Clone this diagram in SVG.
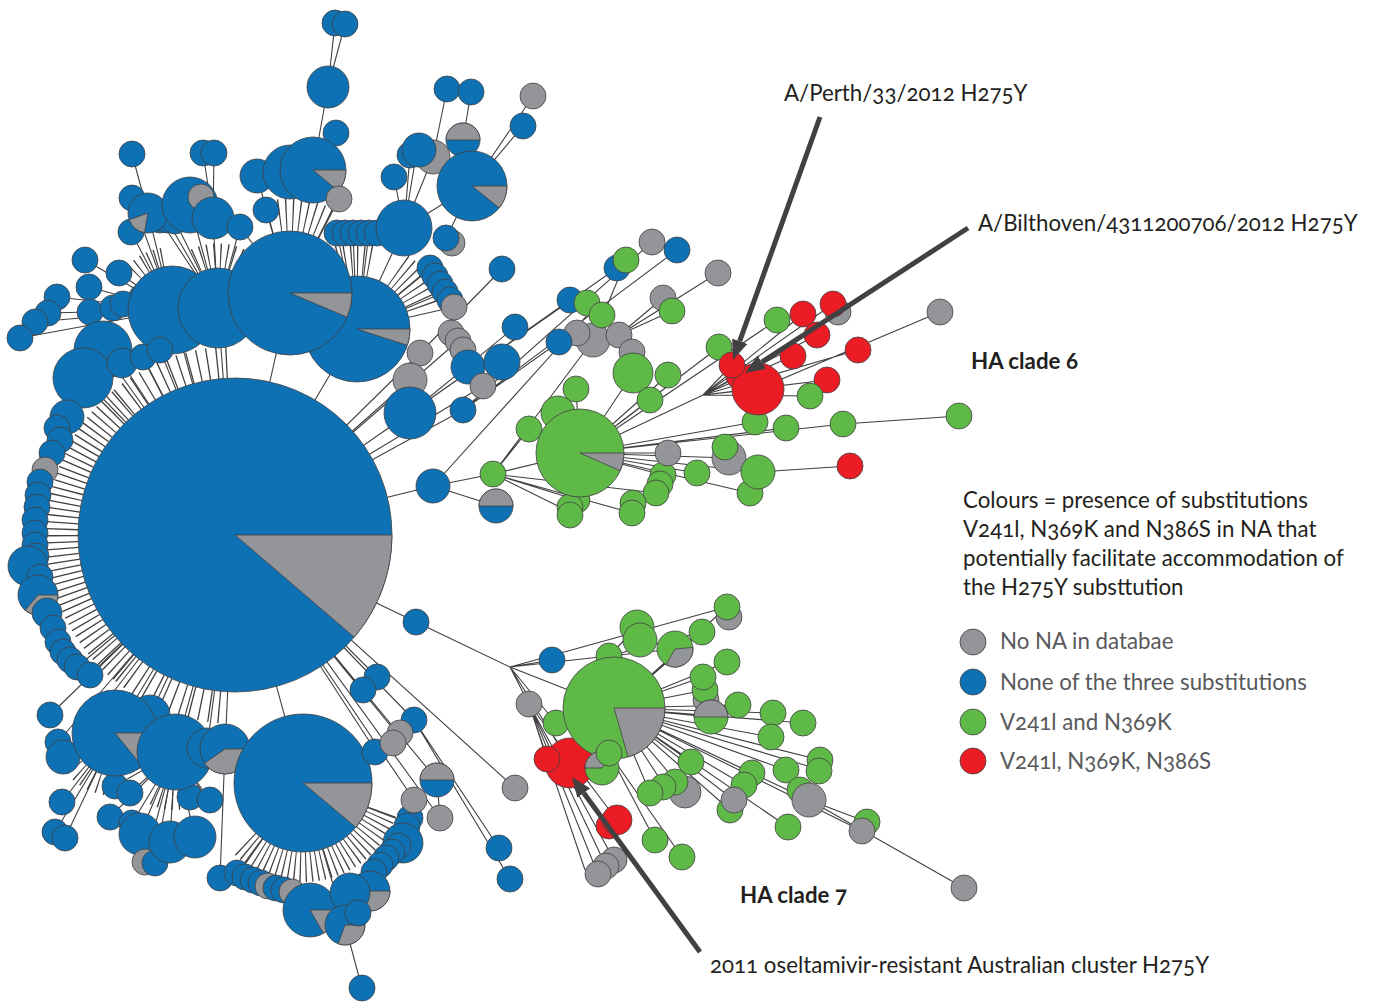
<svg xmlns="http://www.w3.org/2000/svg" width="1375" height="1003" viewBox="0 0 1375 1003">
<defs>
<style>
.b{fill:#0e71b3}.y{fill:#939598}.g{fill:#5fb946}.r{fill:#ec1c24}
#nodes circle,#nodes path,#legend circle{stroke:#414042;stroke-width:.8}
.c{stroke:#414042;stroke-width:1.1;fill:none}
.ring{fill:none;stroke:#414042}
.arrow{stroke:#414042;stroke-width:5;fill:none;marker-end:url(#ah)}
.t{font-family:Lato,"Noto Sans","Liberation Sans",sans-serif;font-size:22.3px;fill:#231f20;font-variant-numeric:oldstyle-nums}
.lg{fill:#58595b}
.bold{font-weight:bold}
</style>
<marker id="ah" viewBox="0 0 10 8" refX="0" refY="4" markerWidth="4" markerHeight="3.2" orient="auto"><path d="M0,0L10,4L0,8z" fill="#414042"/></marker>
</defs>
<rect width="1375" height="1003" fill="#fff"/>
<g id="connectors">
<path class="ring" stroke-width="32" stroke-dasharray="1.3 5.2" d="M123.8,667.5A173,173 0 0 1 123.8,402.5"/>
<path class="ring" stroke-width="32" stroke-dasharray="1.3 8" d="M219.9,707.3A173,173 0 0 1 123.8,667.5"/>
<path class="ring" stroke-width="32" stroke-dasharray="1.3 8" d="M123.8,402.5A173,173 0 0 1 229,362.1"/>
<path class="ring" stroke-width="30" stroke-dasharray="1.2 4.3" d="M381.9,811.7A84,84 0 0 1 243.6,842.4"/>
<path class="ring" stroke-width="20" stroke-dasharray="1.2 5" d="M202.5,791.3A48,48 0 0 1 151,793.6"/>
<path class="ring" stroke-width="20" stroke-dasharray="1.2 6" d="M105.8,785.2A53,53 0 0 1 69.1,759.5"/>
<path class="ring" stroke-width="33" stroke-dasharray="1.2 5.5" d="M279.1,215.8A78,78 0 0 1 329,225.5"/>
<path class="ring" stroke-width="37" stroke-dasharray="1.2 5" d="M332.7,262.3A71,71 0 0 1 375.4,260.4"/>
<path class="ring" stroke-width="37" stroke-dasharray="1.2 5" d="M397.7,270.8A71,71 0 0 1 425.6,310.6"/>
<path class="ring" stroke-width="25" stroke-dasharray="1.2 5" d="M196,260.9A52,52 0 0 1 244,263"/>
<path class="ring" stroke-width="20" stroke-dasharray="1.2 5" d="M134.5,272.5A53,53 0 0 1 167.4,257.2"/>
<path class="c" d="M235,535L218,308M235,535L290,293M235,535L357,329M235,535L172,310M235,535L103,350M235,535L83,378M235,535L122,363M235,535L143,357M235,535L160,350M235,535L410,413M235,535L410,380M235,535L420,353M235,535L463,410M235,535L483,386M235,535L458,341M235,535L433,486M235,535L416,622M235,535L363,690M235,535L377,677M235,535L414,720M235,535L398,735M235,535L375,750M235,535L437,780M235,535L414,800M235,535L440,818M235,535L515,788M235,535L303,783M235,535L225,749M235,535L207,748M235,535L175,752M235,535L150,715M235,535L115,733M235,535L90,675M235,535L77,667M235,535L50,715M235,535L58,742M235,535L63,757"/>
<path class="c" d="M328,87L335,23M328,87L345,24M328,87L313,170M313,170L336,133M290,293L257,176M290,293L266,210M290,293L240,227M290,293L339,199M218,308L190,205M218,308L213,218M213,218L203,153M213,218L214,153M218,308L240,227M218,308L175,221M218,308L167,220M218,308L160,220M172,310L148,213M148,213L132,154M172,310L132,198M172,310L131,232M172,310L119,273M172,310L85,260M172,310L89,287M172,310L90,312M172,310L57,297M172,310L48,313M172,310L35,322M172,310L20,338M172,310L123,304M172,310L142,297M172,310L113,308"/>
<path class="c" d="M357,329L404,228M404,228L394,177M404,228L417,150M404,228L433,157M404,228L410,155M433,157L447,89M463,140L471,92M472,186L523,126M472,186L533,96M472,186L446,238M472,186L404,228M472,186L463,140M357,329L337,233M357,329L353,233M357,329L369,233M357,329L430,268M357,329L445,292M357,329L454,307M502,269L420,353"/>
<path class="c" d="M433,486L493,474M433,486L496,506M433,486L590,312M493,474L580,453M493,474L593,340M493,474L570,512M493,474L632,513M493,474L656,493M493,474L529,429M493,474L577,500M580,453L633,373M580,453L668,375M580,453L650,400M580,453L576,389M580,453L558,413M580,453L668,453M580,453L697,473M580,453L729,458M580,453L758,472M580,453L750,493M580,453L663,475M580,453L703,395M580,453L719,347M580,453L777,320M580,453L755,422M580,453L786,428M580,453L843,424M843,424L959,416M758,472L850,466M703,395L732,365M703,395L739,375M703,395L758,389M703,395L793,356M703,395L803,314M703,395L817,335M703,395L833,304M703,395L827,380M703,395L858,350M703,395L810,396M758,389L940,312M619,335L672,311M619,335L718,273M619,335L663,298M410,413L515,327M410,413L617,268M463,410L677,250M463,410L652,242M463,410L559,342M410,413L570,300M593,340L626,260"/>
<path class="c" d="M416,622L510,667M510,667L552,660M510,667L609,656M609,656L637,627M609,656L675,649M609,656L702,632M510,667L727,607M510,667L614,708M510,667L529,704M510,667L556,723M510,667L570,763M529,704L598,874M529,704L606,866M529,704L614,860M529,704L617,820M529,704L547,759M529,704L585,870M614,708L727,662M614,708L703,677M614,708L705,690M614,708L738,705M614,708L711,717M614,708L773,713M614,708L771,737M614,708L803,723M614,708L691,762M614,708L650,793M614,708L665,787M614,708L685,792M614,708L752,773M614,708L744,785M614,708L734,800M614,708L730,810M614,708L786,770M614,708L820,760M614,708L821,770M614,708L809,800M614,708L788,827M614,708L862,831M614,708L702,632M614,708L727,607M809,800L964,888M809,800L867,822M609,753L655,840M609,753L682,857"/>
<path class="c" d="M115,733L62,802M115,733L55,832M115,733L65,838M175,752L110,817M175,752L132,823M175,752L140,834M175,752L170,842M175,752L195,837M175,752L145,862M175,752L155,863M175,752L115,786M175,752L130,793M175,752L190,797M175,752L210,800M225,749L220,878M303,783L345,925M345,925L362,988M414,720L499,848M414,720L510,879M437,780L440,818M303,783L237,873M303,783L408,823"/>
</g>
<g id="nodes">
<g id="n0"><circle class="b" cx="235" cy="535" r="157"/><path class="y" d="M235,535L392,535A157,157 0 0 1 354.2,637.2Z"/></g>
<g id="n1"><circle class="b" cx="335" cy="23" r="13"/></g>
<g id="n2"><circle class="b" cx="345" cy="24" r="13"/></g>
<g id="n3"><circle class="b" cx="328" cy="87" r="21"/></g>
<g id="n4"><circle class="b" cx="336" cy="133" r="13"/></g>
<g id="n5"><circle class="b" cx="132" cy="154" r="13"/></g>
<g id="n6"><circle class="b" cx="203" cy="153" r="13"/></g>
<g id="n7"><circle class="b" cx="214" cy="153" r="13"/></g>
<g id="n8"><circle class="b" cx="132" cy="198" r="13"/></g>
<g id="n9"><circle class="b" cx="131" cy="232" r="13"/></g>
<g id="n10"><circle class="b" cx="160" cy="220" r="13"/></g>
<g id="n11"><circle class="b" cx="167" cy="220" r="13"/></g>
<g id="n12"><circle class="b" cx="175" cy="221" r="13"/></g>
<g id="n13"><circle class="b" cx="148" cy="213" r="20"/><path class="y" d="M148,213L144.5,232.7A20,20 0 0 1 129.2,219.8Z"/></g>
<g id="n14"><circle class="b" cx="190" cy="205" r="28"/></g>
<g id="n15"><circle class="y" cx="201" cy="197" r="13"/></g>
<g id="n16"><circle class="b" cx="213" cy="218" r="21"/></g>
<g id="n17"><circle class="b" cx="240" cy="227" r="13"/></g>
<g id="n18"><circle class="b" cx="257" cy="176" r="17"/></g>
<g id="n19"><circle class="b" cx="266" cy="210" r="13"/></g>
<g id="n20"><circle class="b" cx="290" cy="172" r="27"/></g>
<g id="n21"><circle class="b" cx="313" cy="170" r="33"/><path class="y" d="M313,170L346,170A33,33 0 0 1 338.3,191.2Z"/></g>
<g id="n22"><circle class="y" cx="339" cy="199" r="13"/></g>
<g id="n23"><circle class="b" cx="85" cy="260" r="13"/></g>
<g id="n24"><circle class="b" cx="119" cy="273" r="13"/></g>
<g id="n25"><circle class="b" cx="89" cy="287" r="13"/></g>
<g id="n26"><circle class="b" cx="57" cy="297" r="13"/></g>
<g id="n27"><circle class="b" cx="48" cy="313" r="13"/></g>
<g id="n28"><circle class="b" cx="35" cy="322" r="13"/></g>
<g id="n29"><circle class="b" cx="20" cy="338" r="13"/></g>
<g id="n30"><circle class="b" cx="90" cy="312" r="13"/></g>
<g id="n31"><circle class="b" cx="142" cy="297" r="13"/></g>
<g id="n32"><circle class="b" cx="113" cy="308" r="13"/></g>
<g id="n33"><circle class="b" cx="123" cy="304" r="13"/></g>
<g id="n34"><circle class="b" cx="172" cy="310" r="44"/></g>
<g id="n35"><circle class="b" cx="218" cy="308" r="40"/></g>
<g id="n36"><circle class="b" cx="337" cy="233" r="13"/></g>
<g id="n37"><circle class="b" cx="345" cy="233" r="13"/></g>
<g id="n38"><circle class="b" cx="353" cy="233" r="13"/></g>
<g id="n39"><circle class="b" cx="361" cy="233" r="13"/></g>
<g id="n40"><circle class="b" cx="369" cy="233" r="13"/></g>
<g id="n41"><circle class="b" cx="377" cy="233" r="13"/></g>
<g id="n42"><circle class="b" cx="357" cy="329" r="53"/><path class="y" d="M357,329L410,329A53,53 0 0 1 407.4,345.4Z"/></g>
<g id="n43"><circle class="b" cx="290" cy="293" r="62"/><path class="y" d="M290,293L352,293A62,62 0 0 1 347.1,317.2Z"/></g>
<g id="n44"><circle class="b" cx="103" cy="350" r="29"/></g>
<g id="n45"><circle class="b" cx="83" cy="378" r="30"/></g>
<g id="n46"><circle class="b" cx="122" cy="363" r="15"/></g>
<g id="n47"><circle class="b" cx="143" cy="357" r="13"/></g>
<g id="n48"><circle class="b" cx="160" cy="350" r="13"/></g>
<g id="n49"><circle class="b" cx="447" cy="89" r="13"/></g>
<g id="n50"><circle class="b" cx="471" cy="92" r="13"/></g>
<g id="n51"><circle class="y" cx="533" cy="96" r="13"/></g>
<g id="n52"><circle class="b" cx="523" cy="126" r="13"/></g>
<g id="n53"><circle class="b" cx="394" cy="177" r="13"/></g>
<g id="n54"><circle class="y" cx="433" cy="157" r="17"/></g>
<g id="n55"><circle class="b" cx="410" cy="155" r="13"/></g>
<g id="n56"><circle class="b" cx="419" cy="150" r="17"/></g>
<g id="n57"><circle class="b" cx="463" cy="140" r="17"/><path class="y" d="M446,140A17,17 0 0 1 480,140Z"/></g>
<g id="n58"><circle class="b" cx="472" cy="186" r="35"/><path class="y" d="M472,186L507,186A35,35 0 0 1 499.2,208Z"/></g>
<g id="n59"><circle class="b" cx="404" cy="228" r="28"/></g>
<g id="n60"><circle class="y" cx="452" cy="243" r="13"/></g>
<g id="n61"><circle class="b" cx="446" cy="238" r="13"/></g>
<g id="n62"><circle class="b" cx="430" cy="268" r="13"/></g>
<g id="n63"><circle class="b" cx="435" cy="276" r="13"/></g>
<g id="n64"><circle class="b" cx="440" cy="284" r="13"/></g>
<g id="n65"><circle class="b" cx="445" cy="292" r="13"/></g>
<g id="n66"><circle class="b" cx="450" cy="300" r="13"/></g>
<g id="n67"><circle class="y" cx="454" cy="307" r="13"/></g>
<g id="n68"><circle class="b" cx="502" cy="269" r="13"/></g>
<g id="n69"><circle class="y" cx="451" cy="333" r="13"/></g>
<g id="n70"><circle class="y" cx="458" cy="341" r="13"/></g>
<g id="n71"><circle class="y" cx="463" cy="350" r="13"/></g>
<g id="n72"><circle class="y" cx="420" cy="353" r="13"/></g>
<g id="n73"><circle class="y" cx="410" cy="380" r="17"/></g>
<g id="n74"><circle class="b" cx="410" cy="413" r="26"/></g>
<g id="n75"><circle class="b" cx="468" cy="367" r="17"/></g>
<g id="n76"><circle class="b" cx="502" cy="362" r="18"/></g>
<g id="n77"><circle class="y" cx="483" cy="386" r="13"/></g>
<g id="n78"><circle class="b" cx="463" cy="410" r="13"/></g>
<g id="n79"><circle class="b" cx="515" cy="327" r="13"/></g>
<g id="n80"><circle class="b" cx="67" cy="417" r="17"/></g>
<g id="n81"><circle class="b" cx="57" cy="428" r="13"/></g>
<g id="n82"><circle class="b" cx="60" cy="440" r="13"/></g>
<g id="n83"><circle class="b" cx="52" cy="453" r="13"/></g>
<g id="n84"><circle class="y" cx="45" cy="470" r="13"/></g>
<g id="n85"><circle class="b" cx="40" cy="482" r="13"/></g>
<g id="n86"><circle class="b" cx="38" cy="495" r="13"/></g>
<g id="n87"><circle class="b" cx="37" cy="507" r="13"/></g>
<g id="n88"><circle class="b" cx="35" cy="520" r="13"/></g>
<g id="n89"><circle class="b" cx="35" cy="533" r="13"/></g>
<g id="n90"><circle class="b" cx="35" cy="545" r="13"/></g>
<g id="n91"><circle class="b" cx="36" cy="556" r="13"/></g>
<g id="n92"><circle class="b" cx="28" cy="566" r="20"/></g>
<g id="n93"><circle class="b" cx="40" cy="577" r="13"/></g>
<g id="n94"><circle class="b" cx="38" cy="595" r="20"/><path class="y" d="M38,595L58,595A20,20 0 0 1 25.1,610.3Z"/></g>
<g id="n95"><circle class="b" cx="47" cy="613" r="15"/></g>
<g id="n96"><circle class="b" cx="53" cy="628" r="13"/></g>
<g id="n97"><circle class="b" cx="58" cy="642" r="13"/></g>
<g id="n98"><circle class="b" cx="63" cy="652" r="13"/></g>
<g id="n99"><circle class="b" cx="70" cy="660" r="13"/></g>
<g id="n100"><circle class="b" cx="77" cy="667" r="13"/></g>
<g id="n101"><circle class="b" cx="90" cy="675" r="13"/></g>
<g id="n102"><circle class="b" cx="50" cy="715" r="13"/></g>
<g id="n103"><circle class="b" cx="58" cy="742" r="13"/></g>
<g id="n104"><circle class="b" cx="63" cy="757" r="17"/></g>
<g id="n105"><circle class="b" cx="62" cy="802" r="13"/></g>
<g id="n106"><circle class="b" cx="55" cy="832" r="13"/></g>
<g id="n107"><circle class="b" cx="65" cy="838" r="13"/></g>
<g id="n108"><circle class="b" cx="115" cy="786" r="13"/></g>
<g id="n109"><circle class="b" cx="130" cy="793" r="13"/></g>
<g id="n110"><circle class="b" cx="110" cy="817" r="13"/></g>
<g id="n111"><circle class="b" cx="132" cy="823" r="13"/></g>
<g id="n112"><circle class="b" cx="140" cy="834" r="21"/></g>
<g id="n113"><circle class="y" cx="145" cy="862" r="13"/></g>
<g id="n114"><circle class="b" cx="155" cy="863" r="13"/></g>
<g id="n115"><circle class="b" cx="170" cy="842" r="21"/></g>
<g id="n116"><circle class="b" cx="195" cy="837" r="21"/></g>
<g id="n117"><circle class="b" cx="190" cy="797" r="13"/></g>
<g id="n118"><circle class="b" cx="210" cy="800" r="13"/></g>
<g id="n119"><circle class="b" cx="220" cy="878" r="13"/></g>
<g id="n120"><circle class="b" cx="150" cy="715" r="20"/></g>
<g id="n121"><circle class="b" cx="115" cy="733" r="43"/><path class="y" d="M115,733L158,733A43,43 0 0 1 142.1,766.4Z"/></g>
<g id="n122"><circle class="b" cx="175" cy="752" r="38"/></g>
<g id="n123"><circle class="b" cx="207" cy="748" r="20"/></g>
<g id="n124"><circle class="b" cx="225" cy="749" r="25"/><path class="y" d="M225,749L250,749A25,25 0 0 1 204.5,763.3Z"/></g>
<g id="n125"><circle class="b" cx="303" cy="783" r="69"/><path class="y" d="M303,783L372,783A69,69 0 0 1 355.9,827.4Z"/></g>
<g id="n126"><circle class="b" cx="237" cy="873" r="13"/></g>
<g id="n127"><circle class="b" cx="245" cy="877" r="13"/></g>
<g id="n128"><circle class="b" cx="253" cy="880" r="13"/></g>
<g id="n129"><circle class="b" cx="261" cy="883" r="13"/></g>
<g id="n130"><circle class="y" cx="268" cy="886" r="13"/></g>
<g id="n131"><circle class="b" cx="276" cy="888" r="13"/></g>
<g id="n132"><circle class="b" cx="284" cy="890" r="13"/></g>
<g id="n133"><circle class="y" cx="292" cy="892" r="13"/></g>
<g id="n134"><circle class="b" cx="310" cy="910" r="27"/><path class="y" d="M310,910L337,910A27,27 0 0 1 323.5,933.4Z"/></g>
<g id="n135"><circle class="b" cx="410" cy="818" r="13"/></g>
<g id="n136"><circle class="b" cx="407" cy="826" r="13"/></g>
<g id="n137"><circle class="b" cx="403" cy="843" r="20"/></g>
<g id="n138"><circle class="b" cx="398" cy="846" r="13"/></g>
<g id="n139"><circle class="b" cx="392" cy="852" r="13"/></g>
<g id="n140"><circle class="b" cx="386" cy="858" r="13"/></g>
<g id="n141"><circle class="b" cx="380" cy="865" r="13"/></g>
<g id="n142"><circle class="b" cx="374" cy="872" r="13"/></g>
<g id="n143"><circle class="b" cx="370" cy="891" r="20"/><path class="y" d="M370,891L390,891A20,20 0 0 1 360,908.3Z"/></g>
<g id="n144"><circle class="b" cx="350" cy="893" r="20"/></g>
<g id="n145"><circle class="b" cx="345" cy="925" r="20"/><path class="y" d="M345,925L365,925A20,20 0 0 1 338.2,943.8Z"/></g>
<g id="n146"><circle class="b" cx="358" cy="913" r="13"/></g>
<g id="n147"><circle class="b" cx="362" cy="988" r="13"/></g>
<g id="n148"><circle class="b" cx="377" cy="677" r="13"/></g>
<g id="n149"><circle class="b" cx="363" cy="690" r="13"/></g>
<g id="n150"><circle class="b" cx="375" cy="752" r="13"/></g>
<g id="n151"><circle class="b" cx="414" cy="720" r="13"/></g>
<g id="n152"><circle class="y" cx="400" cy="733" r="13"/></g>
<g id="n153"><circle class="y" cx="393" cy="743" r="13"/></g>
<g id="n154"><circle class="b" cx="437" cy="780" r="17"/><path class="y" d="M420,780A17,17 0 0 1 454,780Z"/></g>
<g id="n155"><circle class="y" cx="414" cy="800" r="13"/></g>
<g id="n156"><circle class="y" cx="440" cy="818" r="13"/></g>
<g id="n157"><circle class="b" cx="499" cy="848" r="13"/></g>
<g id="n158"><circle class="b" cx="510" cy="879" r="13"/></g>
<g id="n159"><circle class="y" cx="515" cy="788" r="13"/></g>
<g id="n160"><circle class="b" cx="433" cy="486" r="17"/></g>
<g id="n161"><circle class="b" cx="496" cy="506" r="17"/><path class="y" d="M479,506A17,17 0 0 1 513,506Z"/></g>
<g id="n162"><circle class="g" cx="493" cy="474" r="13"/></g>
<g id="n163"><circle class="b" cx="570" cy="300" r="13"/></g>
<g id="n164"><circle class="y" cx="593" cy="340" r="17"/></g>
<g id="n165"><circle class="g" cx="587" cy="303" r="13"/></g>
<g id="n166"><circle class="g" cx="602" cy="315" r="13"/></g>
<g id="n167"><circle class="y" cx="577" cy="333" r="13"/></g>
<g id="n168"><circle class="y" cx="619" cy="335" r="13"/></g>
<g id="n169"><circle class="b" cx="559" cy="342" r="13"/></g>
<g id="n170"><circle class="b" cx="617" cy="268" r="13"/></g>
<g id="n171"><circle class="g" cx="626" cy="260" r="13"/></g>
<g id="n172"><circle class="y" cx="652" cy="242" r="13"/></g>
<g id="n173"><circle class="b" cx="677" cy="250" r="13"/></g>
<g id="n174"><circle class="y" cx="718" cy="273" r="13"/></g>
<g id="n175"><circle class="y" cx="663" cy="298" r="13"/></g>
<g id="n176"><circle class="g" cx="672" cy="311" r="13"/></g>
<g id="n177"><circle class="y" cx="632" cy="352" r="13"/></g>
<g id="n178"><circle class="g" cx="633" cy="373" r="20"/></g>
<g id="n179"><circle class="g" cx="668" cy="375" r="13"/></g>
<g id="n180"><circle class="g" cx="650" cy="400" r="13"/></g>
<g id="n181"><circle class="g" cx="558" cy="413" r="17"/></g>
<g id="n182"><circle class="g" cx="529" cy="429" r="13"/></g>
<g id="n183"><circle class="g" cx="576" cy="389" r="13"/></g>
<g id="n184"><circle class="g" cx="577" cy="500" r="13"/></g>
<g id="n185"><circle class="g" cx="570" cy="507" r="13"/></g>
<g id="n186"><circle class="g" cx="570" cy="515" r="13"/></g>
<g id="n187"><circle class="g" cx="663" cy="475" r="13"/></g>
<g id="n188"><circle class="g" cx="660" cy="484" r="13"/></g>
<g id="n189"><circle class="g" cx="656" cy="493" r="13"/></g>
<g id="n190"><circle class="g" cx="633" cy="503" r="13"/></g>
<g id="n191"><circle class="g" cx="632" cy="513" r="13"/></g>
<g id="n192"><circle class="g" cx="580" cy="453" r="44"/><path class="y" d="M580,453L624,453A44,44 0 0 1 620.2,470.9Z"/></g>
<g id="n193"><circle class="y" cx="668" cy="453" r="13"/></g>
<g id="n194"><circle class="g" cx="697" cy="473" r="13"/></g>
<g id="n195"><circle class="y" cx="729" cy="458" r="17"/></g>
<g id="n196"><circle class="g" cx="725" cy="447" r="13"/></g>
<g id="n197"><circle class="g" cx="750" cy="493" r="13"/></g>
<g id="n198"><circle class="g" cx="758" cy="472" r="17"/></g>
<g id="n199"><circle class="g" cx="755" cy="422" r="13"/></g>
<g id="n200"><circle class="g" cx="786" cy="428" r="13"/></g>
<g id="n201"><circle class="g" cx="843" cy="424" r="13"/></g>
<g id="n202"><circle class="g" cx="959" cy="416" r="13"/></g>
<g id="n203"><circle class="r" cx="850" cy="466" r="13"/></g>
<g id="n204"><circle class="g" cx="719" cy="347" r="13"/></g>
<g id="n205"><circle class="g" cx="777" cy="320" r="13"/></g>
<g id="n206"><circle class="y" cx="838" cy="312" r="13"/></g>
<g id="n207"><circle class="r" cx="803" cy="314" r="13"/></g>
<g id="n208"><circle class="r" cx="833" cy="304" r="13"/></g>
<g id="n209"><circle class="r" cx="817" cy="335" r="13"/></g>
<g id="n210"><circle class="r" cx="793" cy="356" r="13"/></g>
<g id="n211"><circle class="r" cx="858" cy="350" r="13"/></g>
<g id="n212"><circle class="r" cx="827" cy="380" r="13"/></g>
<g id="n213"><circle class="g" cx="810" cy="396" r="13"/></g>
<g id="n214"><circle class="r" cx="739" cy="376" r="13"/></g>
<g id="n215"><circle class="r" cx="758" cy="389" r="26"/></g>
<g id="n216"><circle class="r" cx="732" cy="365" r="13"/></g>
<g id="n217"><circle class="y" cx="940" cy="312" r="13"/></g>
<g id="n218"><circle class="b" cx="416" cy="622" r="13"/></g>
<g id="n219"><circle class="b" cx="552" cy="660" r="13"/></g>
<g id="n220"><circle class="y" cx="529" cy="704" r="13"/></g>
<g id="n221"><circle class="y" cx="614" cy="860" r="13"/></g>
<g id="n222"><circle class="y" cx="606" cy="866" r="13"/></g>
<g id="n223"><circle class="y" cx="598" cy="874" r="13"/></g>
<g id="n224"><circle class="g" cx="655" cy="840" r="13"/></g>
<g id="n225"><circle class="g" cx="682" cy="857" r="13"/></g>
<g id="n226"><circle class="r" cx="609" cy="826" r="13"/></g>
<g id="n227"><circle class="r" cx="617" cy="820" r="15"/></g>
<g id="n228"><circle class="g" cx="556" cy="723" r="13"/></g>
<g id="n229"><circle class="g" cx="609" cy="656" r="13"/></g>
<g id="n230"><circle class="g" cx="637" cy="627" r="17"/></g>
<g id="n231"><circle class="g" cx="640" cy="640" r="17"/></g>
<g id="n232"><circle class="g" cx="675" cy="649" r="18"/><path class="y" d="M675,649L692.9,647.4A18,18 0 0 1 666,664.6Z"/></g>
<g id="n233"><circle class="g" cx="702" cy="632" r="13"/></g>
<g id="n234"><circle class="y" cx="729" cy="617" r="13"/></g>
<g id="n235"><circle class="g" cx="727" cy="607" r="13"/></g>
<g id="n236"><circle class="g" cx="727" cy="662" r="13"/></g>
<g id="n237"><circle class="y" cx="706" cy="700" r="13"/></g>
<g id="n238"><circle class="g" cx="705" cy="690" r="13"/></g>
<g id="n239"><circle class="g" cx="703" cy="677" r="13"/></g>
<g id="n240"><circle class="g" cx="738" cy="705" r="13"/></g>
<g id="n241"><circle class="g" cx="711" cy="717" r="17"/><path class="y" d="M694,717A17,17 0 0 1 728,717Z"/></g>
<g id="n242"><circle class="g" cx="773" cy="713" r="13"/></g>
<g id="n243"><circle class="g" cx="771" cy="737" r="13"/></g>
<g id="n244"><circle class="g" cx="803" cy="723" r="13"/></g>
<g id="n245"><circle class="g" cx="691" cy="762" r="13"/></g>
<g id="n246"><circle class="y" cx="685" cy="792" r="16"/></g>
<g id="n247"><circle class="g" cx="675" cy="782" r="13"/></g>
<g id="n248"><circle class="g" cx="663" cy="787" r="13"/></g>
<g id="n249"><circle class="g" cx="650" cy="793" r="13"/></g>
<g id="n250"><circle class="g" cx="752" cy="773" r="13"/></g>
<g id="n251"><circle class="g" cx="744" cy="785" r="13"/></g>
<g id="n252"><circle class="g" cx="730" cy="810" r="13"/></g>
<g id="n253"><circle class="y" cx="734" cy="800" r="13"/></g>
<g id="n254"><circle class="g" cx="786" cy="770" r="13"/></g>
<g id="n255"><circle class="g" cx="820" cy="760" r="13"/></g>
<g id="n256"><circle class="g" cx="819" cy="771" r="13"/></g>
<g id="n257"><circle class="g" cx="800" cy="790" r="13"/></g>
<g id="n258"><circle class="y" cx="809" cy="800" r="17"/></g>
<g id="n259"><circle class="g" cx="788" cy="827" r="13"/></g>
<g id="n260"><circle class="g" cx="867" cy="822" r="13"/></g>
<g id="n261"><circle class="y" cx="862" cy="831" r="13"/></g>
<g id="n262"><circle class="y" cx="964" cy="888" r="13"/></g>
<g id="n263"><circle class="r" cx="570" cy="763" r="25"/></g>
<g id="n264"><circle class="g" cx="614" cy="708" r="51"/><path class="y" d="M614,708L665,708A51,51 0 0 1 628.1,757Z"/></g>
<g id="n265"><circle class="r" cx="547" cy="759" r="13"/></g>
<g id="n266"><circle class="g" cx="602" cy="768" r="17"/><path class="y" d="M602,768L585,768A17,17 0 0 1 610.5,753.3Z"/></g>
<g id="n267"><circle class="g" cx="609" cy="753" r="13"/></g>
</g>
<g id="arrows">
<path class="arrow" d="M820,117L739.7,341.2"/>
<path class="arrow" d="M968,228L761.8,362.1"/>
<path class="arrow" d="M700,952L583.8,793.1"/>
</g>
<g id="legend">
<circle class="y" cx="973" cy="642" r="13"/>
<circle class="b" cx="973" cy="682" r="13"/>
<circle class="g" cx="973" cy="722" r="13"/>
<circle class="r" cx="973" cy="761" r="13"/>
<text class="t lg" x="1000" y="649">No NA in databae</text>
<text class="t lg" x="1000" y="690">None of the three substitutions</text>
<text class="t lg" x="1000" y="730">V241l and N369K</text>
<text class="t lg" x="1000" y="769">V241l, N369K, N386S</text>
<text class="t" x="963" y="508">Colours = presence of substitutions</text>
<text class="t" x="963" y="537">V241l, N369K and N386S in NA that</text>
<text class="t" x="963" y="566">potentially facilitate accommodation of</text>
<text class="t" x="963" y="595">the H275Y substtution</text>
</g>
<g id="labels">
<text class="t" x="784" y="101">A/Perth/33/2012 H275Y</text>
<text class="t" x="978" y="231">A/Bilthoven/4311200706/2012 H275Y</text>
<text class="t bold" x="971" y="369">HA clade 6</text>
<text class="t bold" x="740" y="903">HA clade 7</text>
<text class="t" x="710" y="973">2011 oseltamivir-resistant Australian cluster H275Y</text>
</g>
</svg>
